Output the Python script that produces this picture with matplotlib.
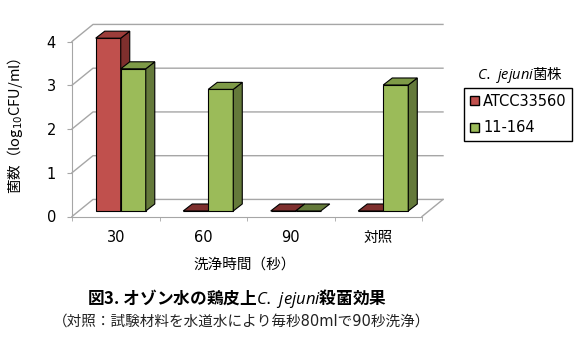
import matplotlib
matplotlib.use("Agg")
import matplotlib.pyplot as plt
from matplotlib.patches import Polygon, Patch

plt.rcParams['font.family'] = ['DejaVu Sans', 'Noto Sans CJK JP']
plt.rcParams['mathtext.fontset'] = 'custom'
plt.rcParams['mathtext.it'] = 'Open Sans:italic'
plt.rcParams['mathtext.rm'] = 'DejaVu Sans'

# data
categories = ['30', '60', '90', '対照']
series_names = ['ATCC33560', '11-164']
atcc = [3.95, 0.0, 0.0, 0.0]
strain_11_164 = [3.25, 2.78, 0.0, 2.88]
y_ticks = [0, 1, 2, 3, 4]

face_cols = ['#C0504D', '#9BBB59']
side_cols = ['#7E2F2D', '#64793A']
top_cols = ['#9C3D3A', '#7E9A47']
grid_col = '#A6A6A6'
jp = 'Noto Sans CJK JP'

fig = plt.figure(figsize=(5.85, 3.55), dpi=100)
ax = fig.add_axes([72/585, 1 - 216.5/355, 350/585, 175/355])
ax.set_xlim(0, 4)
ax.set_ylim(0, 4)

# depth of the pseudo 3D box (data units)
back_dx, back_dy = 0.24, 0.39
shift_dx, shift_dy = 0.057, 0.126
bar_dx, bar_dy = 0.103, 0.16
bar_w = 0.286

# back wall gridlines + left wall diagonals
for v in y_ticks:
    ax.plot([0, back_dx, 4 + back_dx], [v, v + back_dy, v + back_dy],
            color=grid_col, lw=1, clip_on=False, zorder=1)
# floor
ax.plot([4, 4 + back_dx], [0, back_dy], color=grid_col, lw=1, clip_on=False, zorder=1)

centers = [i + 0.5 for i in range(len(categories))]
for i, c in enumerate(centers):
    for s, vals in enumerate([atcc, strain_11_164]):
        h = vals[i]
        x = c + (s - 0.5) * bar_w + shift_dx
        b = shift_dy
        ax.bar(x, h, width=bar_w, bottom=b, color=face_cols[s], edgecolor='black',
               lw=0.8, zorder=3, clip_on=False)
        xr = x + bar_w / 2
        xl = x - bar_w / 2
        side = [(xr, b), (xr + bar_dx, b + bar_dy), (xr + bar_dx, b + h + bar_dy), (xr, b + h)]
        top = [(xl, b + h), (xr, b + h), (xr + bar_dx, b + h + bar_dy), (xl + bar_dx, b + h + bar_dy)]
        if h > 0:
            ax.add_patch(Polygon(side, closed=True, facecolor=side_cols[s], edgecolor='black',
                                 lw=0.8, zorder=3, clip_on=False))
        ax.add_patch(Polygon(top, closed=True, facecolor=top_cols[s] if h > 0 else side_cols[s],
                             edgecolor='black', lw=0.8, zorder=3, clip_on=False))

for sp in ['top', 'right']:
    ax.spines[sp].set_visible(False)
ax.spines['left'].set_color(grid_col)
ax.spines['bottom'].set_color(grid_col)

ax.set_yticks(y_ticks)
ax.tick_params(axis='y', length=3.6, color=grid_col, pad=8, labelsize=10.5)
ax.set_xticks(centers, categories)
ax.set_xticks(range(5), minor=True)
ax.tick_params(axis='x', which='major', length=0, pad=10, labelsize=10.5)
ax.tick_params(axis='x', which='minor', length=3, color=grid_col)

fig.text(15/585, 1 - 126/355, '菌数（log$_{10}$CFU/ml）', rotation=90,
         ha='center', va='center', fontsize=10.5, family=jp)
fig.text(245/585, 1 - 264/355, '洗浄時間（秒）', ha='center', va='center', fontsize=10.5)

# legend
fig.text(520/585, 1 - 75/355, r'$\it{C.\ jejuni}$菌株', ha='center', va='center',
         fontsize=10.5, family=jp)
handles = [Patch(facecolor=face_cols[k], edgecolor='black', label=series_names[k]) for k in range(2)]
fig.legend(handles=handles, loc='upper left', bbox_to_anchor=(464/585, 1 - 88/355),
           fancybox=False, edgecolor='black', framealpha=1, fontsize=10.5,
           handlelength=0.6, handleheight=0.6, handletextpad=0.3, borderaxespad=0,
           borderpad=0.4, labelspacing=0.8)

fig.text(237/585, 1 - 299/355, r'図3. オゾン水の鶏皮上$\it{C.\ jejuni}$殺菌効果',
         ha='center', va='center', fontsize=12, fontweight='bold', family=jp)
fig.text(242/585, 1 - 321/355, '（対照：試験材料を水道水により毎秒80mlで90秒洗浄）',
         ha='center', va='center', fontsize=10.5, color='#222222')

fig.savefig('out.png', dpi=100)
